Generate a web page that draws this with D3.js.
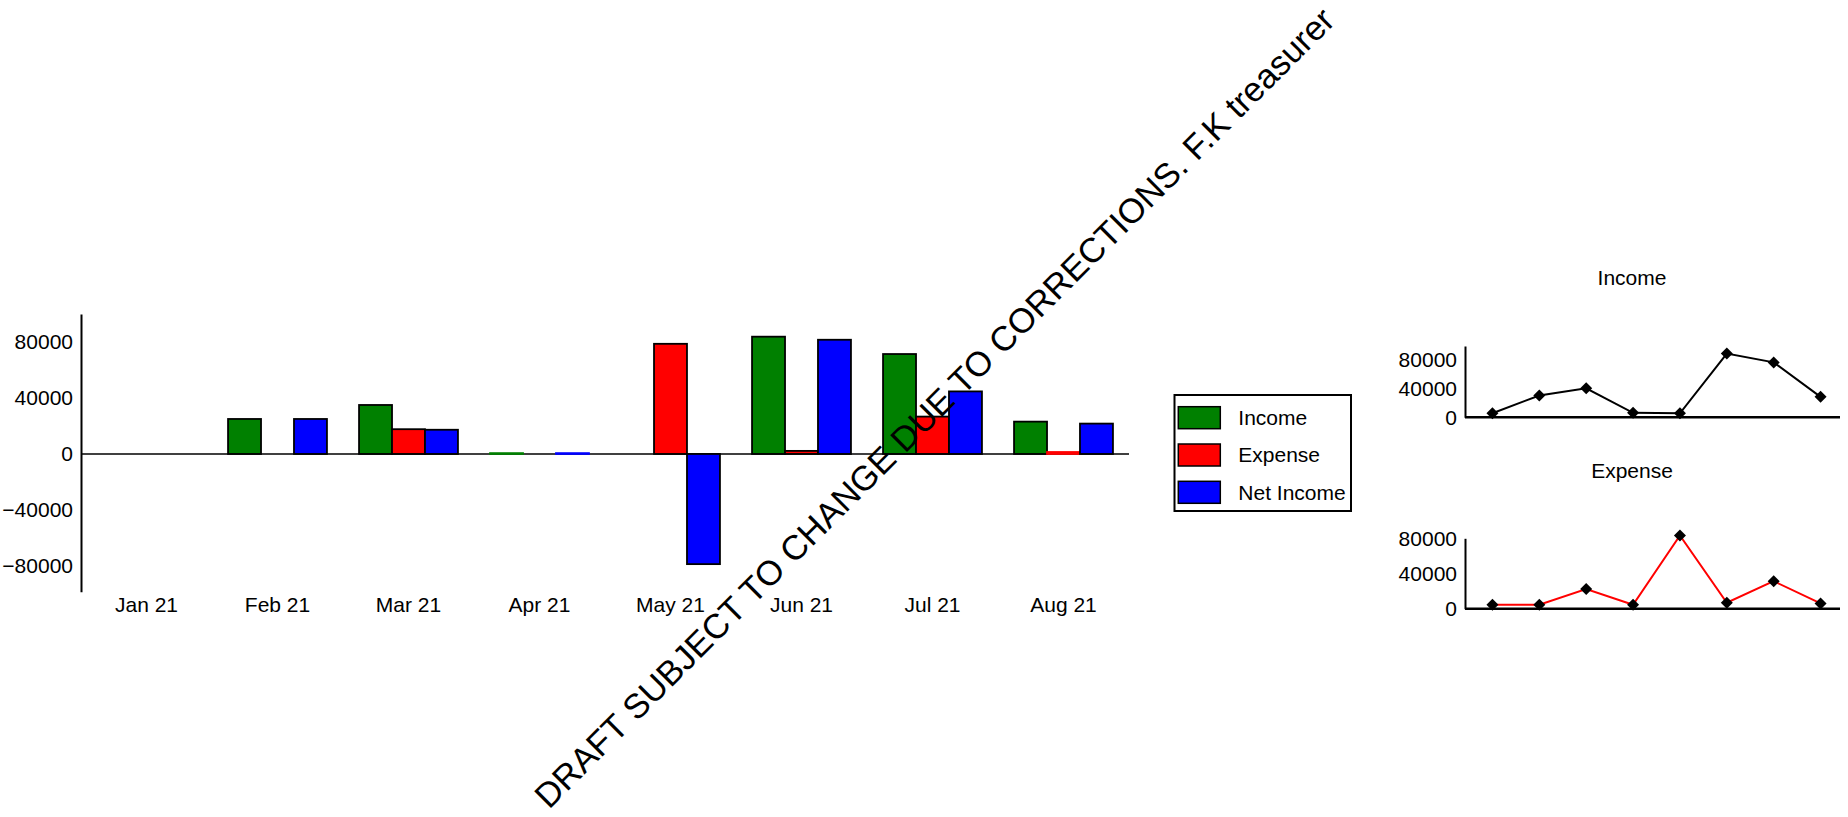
<!DOCTYPE html>
<html>
<head>
<meta charset="utf-8">
<script src="https://cdn.jsdelivr.net/npm/d3@7"></script>
<style>
  html, body { margin: 0; padding: 0; background: #fff; }
  svg { display: block; font-family: "Liberation Sans", Arial, sans-serif; }
</style>
</head>
<body>
<svg id="chart" width="1848" height="817"></svg>
<script>
// ---- data ----
const months = ["Jan 21", "Feb 21", "Mar 21", "Apr 21", "May 21", "Jun 21", "Jul 21", "Aug 21"];
const income = [0, 25000, 35000, 600, 0, 83800, 71400, 23100];
const expense = [0, 0, 17700, 0, 78700, 2200, 26700, 1400];
const netIncome = [0, 25000, 17300, 600, -78700, 81600, 44700, 21700];
const seriesNames = ["Income", "Expense", "Net Income"];
const seriesColors = ["#008000", "#ff0000", "#0000ff"];
const yTicks = [-80000, -40000, 0, 40000, 80000];
const sparkTicks = [0, 40000, 80000];
const watermark = "DRAFT SUBJECT TO CHANGE DUE TO CORRECTIONS. F.K treasurer";

const seriesValues = [income, expense, netIncome];
const svg = d3.select("#chart");
const FS = "21px";

// ---- main grouped bar chart ----
const x0 = d3.scaleBand().domain(months).range([81, 1129]).paddingInner(0.245).paddingOuter(0.1225);
const x1 = d3.scaleBand().domain(seriesNames).range([0, x0.bandwidth()]);
const y = d3.scaleLinear().domain([-98400, 100000]).range([591.7, 314]);

const main = svg.append("g");

// zero line
main.append("line")
  .attr("x1", 81).attr("x2", 1129)
  .attr("y1", y(0)).attr("y2", y(0))
  .attr("stroke", "#000").attr("stroke-width", 1.5);

// bars
const rows = months.map((m, i) => ({ m, vals: seriesNames.map((s, k) => ({ s, k, v: seriesValues[k][i] })) }));
const grp = main.selectAll("g.month").data(rows).join("g")
  .attr("class", "month")
  .attr("transform", d => `translate(${x0(d.m)},0)`);
grp.selectAll("rect").data(d => d.vals).join("rect")
  .attr("x", d => x1(d.s))
  .attr("width", x1.bandwidth())
  .attr("y", d => y(Math.max(0, d.v)))
  .attr("height", d => Math.abs(y(d.v) - y(0)))
  .attr("fill", d => seriesColors[d.k])
  .attr("stroke", d => Math.abs(y(d.v) - y(0)) < 2 ? seriesColors[d.k] : "#000")
  .attr("stroke-width", 1.8);

// y axis
const yAxis = main.append("g").attr("transform", "translate(81,0)")
  .call(d3.axisLeft(y).tickValues(yTicks).tickSize(0).tickSizeOuter(0).tickPadding(8).tickFormat(d3.format("d")));
yAxis.select(".domain").attr("stroke", "#000").attr("stroke-width", 2);
yAxis.selectAll("text").attr("font-size", FS).attr("font-family", "Liberation Sans, Arial, sans-serif").attr("fill", "#000");

// x labels
const xAxis = main.append("g").attr("transform", "translate(0,591.7)")
  .call(d3.axisBottom(x0).tickSize(0).tickPadding(5));
xAxis.select(".domain").remove();
xAxis.selectAll("text").attr("font-size", FS).attr("font-family", "Liberation Sans, Arial, sans-serif").attr("fill", "#000");

// ---- legend ----
const leg = svg.append("g");
leg.append("rect")
  .attr("x", 1174.5).attr("y", 395).attr("width", 176.5).attr("height", 116)
  .attr("fill", "#fff").attr("stroke", "#000").attr("stroke-width", 2);
const li = leg.selectAll("g.li").data(seriesNames).join("g")
  .attr("class", "li")
  .attr("transform", (d, i) => `translate(1178.3,${406.7 + i * 37.3})`);
li.append("rect").attr("width", 42).attr("height", 22)
  .attr("fill", (d, i) => seriesColors[i]).attr("stroke", "#000").attr("stroke-width", 1.5);
li.append("text").attr("x", 60).attr("y", 11).attr("dy", "0.35em")
  .attr("font-size", FS).attr("fill", "#000").text(d => d);

// ---- sparklines ----
function spark(values, maxV, top, bottom, lineColor, title, titleY) {
  const g = svg.append("g");
  const xs = d3.scaleBand().domain(months).range([1465, 1840]);
  const ys = d3.scaleLinear().domain([0, maxV]).range([bottom, top]);
  g.append("text").attr("x", 1632).attr("y", titleY).attr("text-anchor", "middle")
    .attr("font-size", FS).attr("fill", "#000").text(title);
  const ax = g.append("g").attr("transform", "translate(1465,0)")
    .call(d3.axisLeft(ys).tickValues(sparkTicks).tickSize(0).tickSizeOuter(0).tickPadding(8).tickFormat(d3.format("d")));
  ax.select(".domain").attr("stroke", "#000").attr("stroke-width", 2);
  ax.selectAll("text").attr("font-size", FS).attr("font-family", "Liberation Sans, Arial, sans-serif").attr("fill", "#000");
  g.append("line").attr("x1", 1465).attr("x2", 1840).attr("y1", bottom).attr("y2", bottom)
    .attr("stroke", "#000").attr("stroke-width", 2.5);
  const pts = g.append("g").attr("transform", "translate(4,-4)");
  const line = d3.line().x((d, i) => xs(months[i]) + xs.bandwidth() / 2).y(d => ys(d));
  pts.append("path").attr("d", line(values)).attr("fill", "none")
    .attr("stroke", lineColor).attr("stroke-width", 2);
  const sym = d3.symbol(d3.symbolSquare, 72);
  pts.selectAll("path.mk").data(values).join("path").attr("class", "mk")
    .attr("d", sym)
    .attr("transform", (d, i) => `translate(${xs(months[i]) + xs.bandwidth() / 2},${ys(d)}) rotate(45)`)
    .attr("fill", "#000");
}
spark(income, 100000, 346, 417.3, "#000", "Income", 285);
spark(expense, 80000, 538.3, 608.7, "#ff0000", "Expense", 478);

// ---- watermark ----
svg.append("text")
  .attr("transform", "translate(549,810) rotate(-45)")
  .attr("font-size", "34.5px").attr("fill", "#000")
  .text(watermark);
</script>
</body>
</html>
